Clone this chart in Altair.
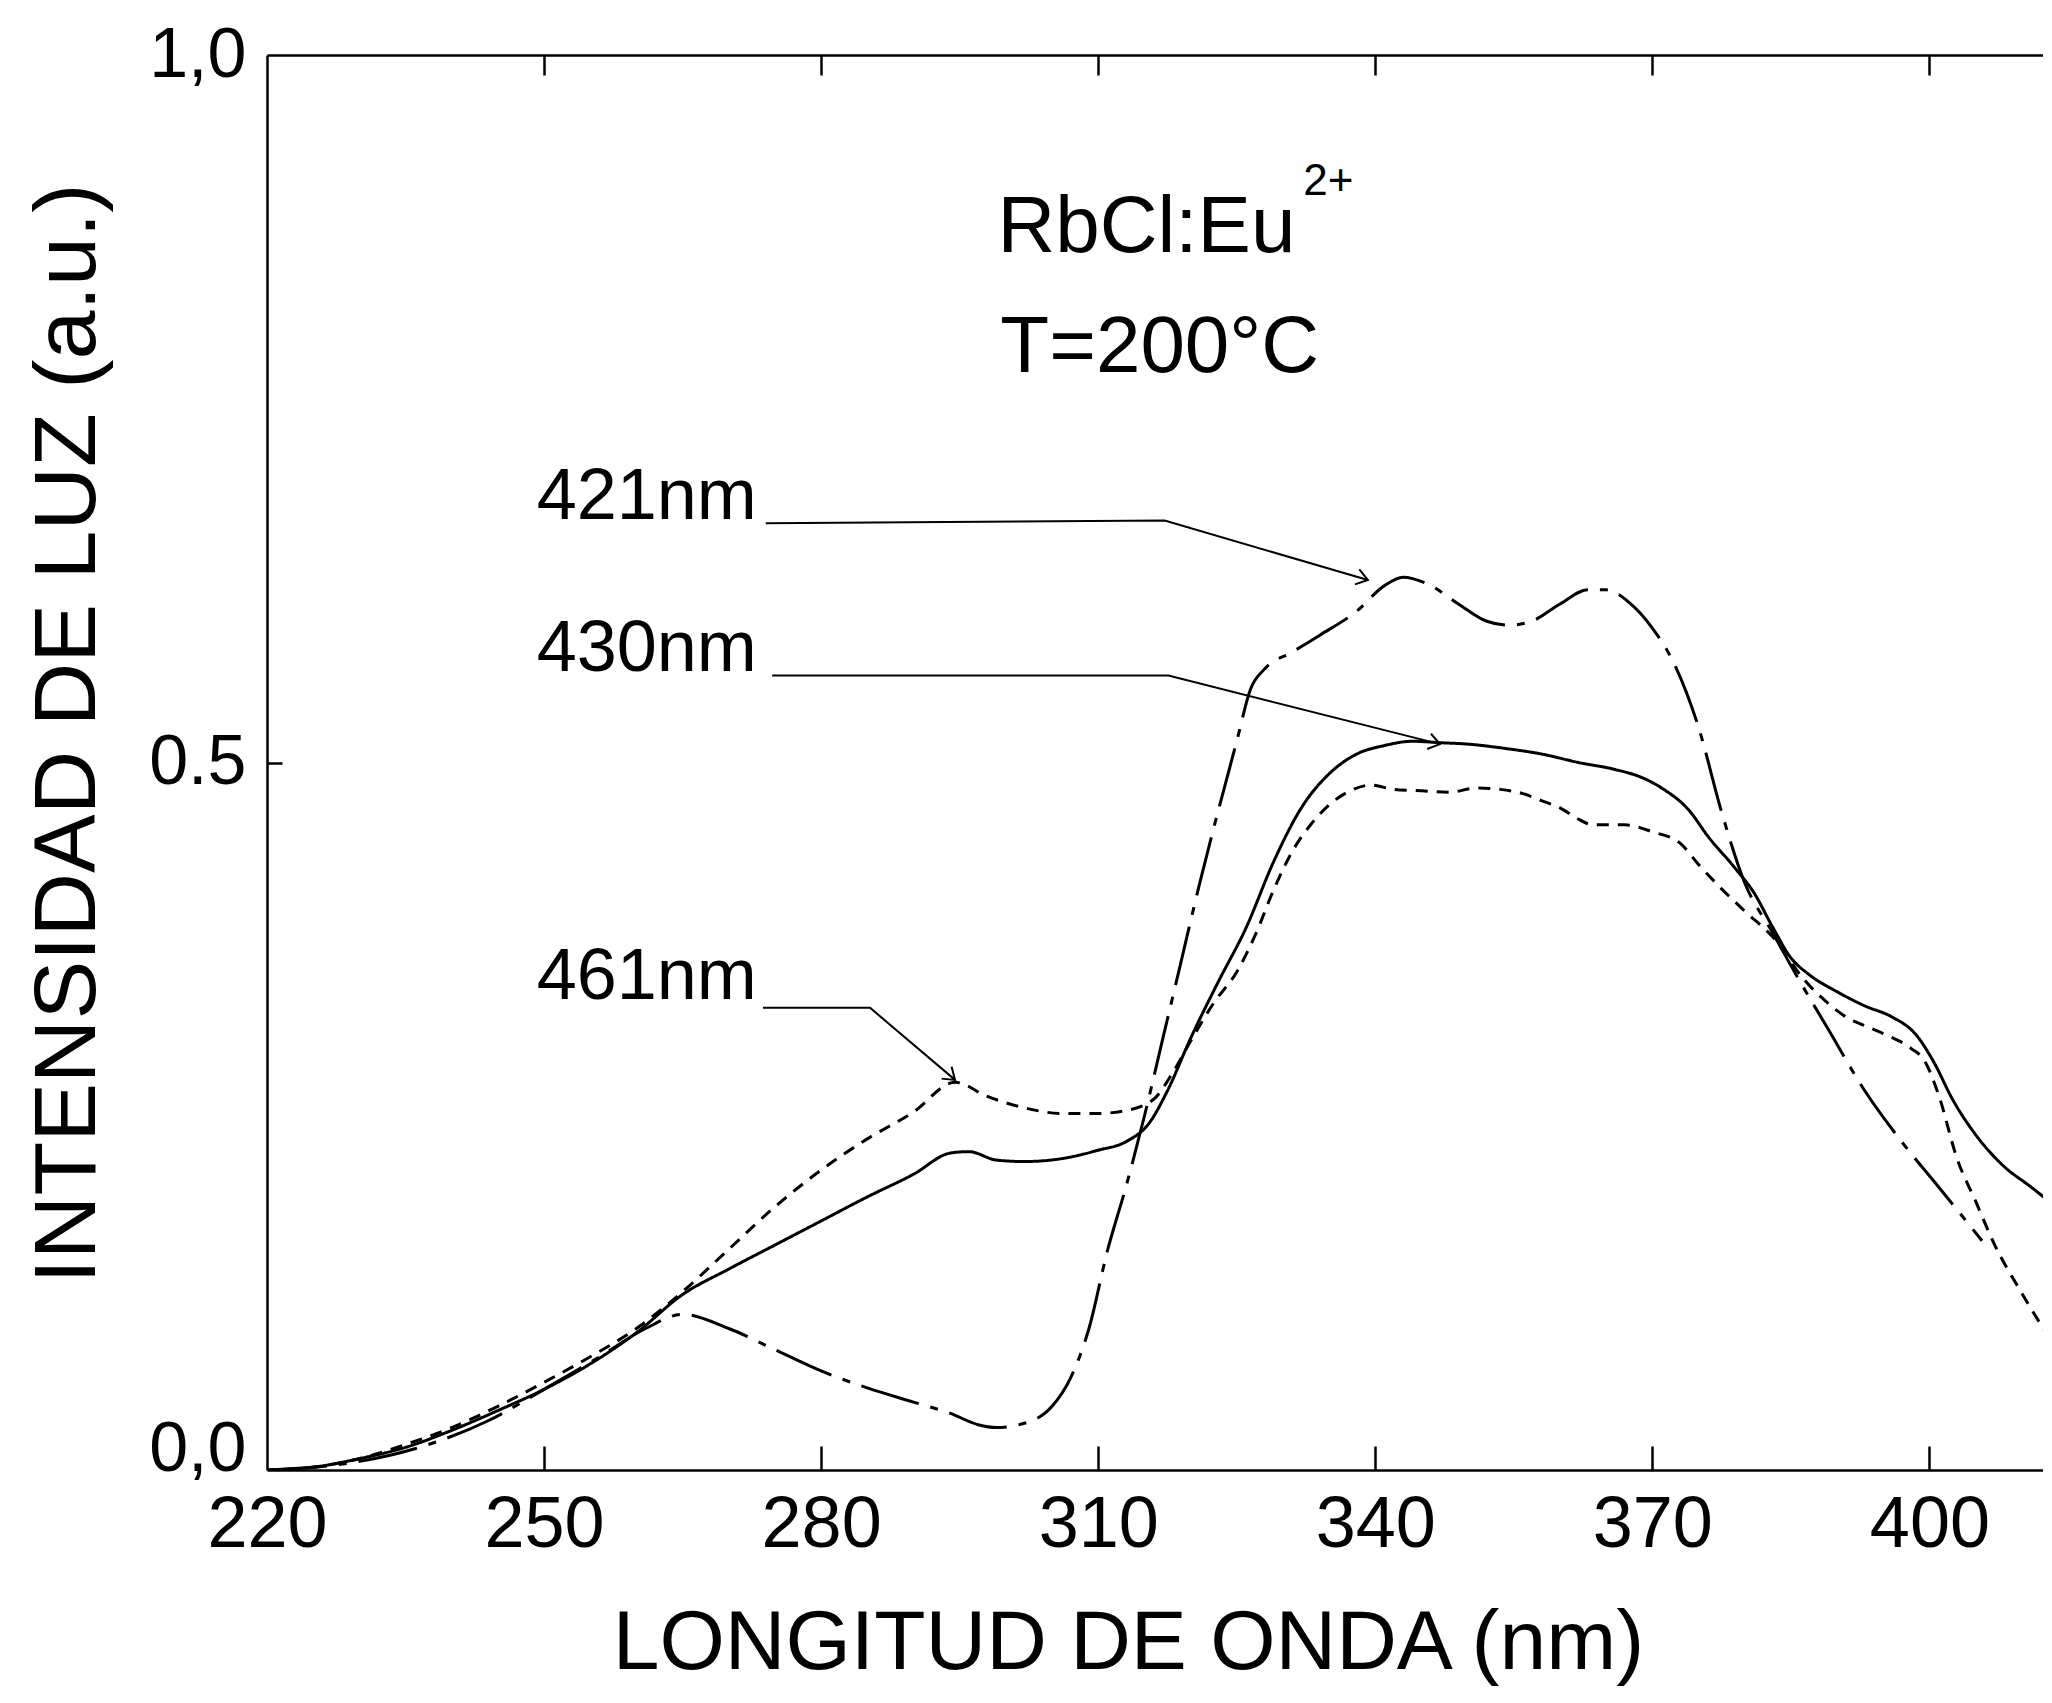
import math
import altair as alt
import pandas as pd

# ---------------- data ----------------
wl_430 = [220, 225, 230, 235, 240, 245, 250, 255, 260, 265, 270, 275, 280, 285, 290, 294, 296, 299, 302, 306,
          310, 313, 315.5, 317.5, 320, 323, 326, 329, 332, 335, 338, 341, 344, 347, 350, 354, 358, 362, 366,
          369, 371, 374, 376, 379, 381, 383, 385, 387, 390, 393, 396, 398.5, 400.5, 402.5, 405, 408, 411, 413.3]
int_430 = [0, 0.002, 0.008, 0.016, 0.028, 0.042, 0.057, 0.075, 0.097, 0.124, 0.142, 0.159, 0.176, 0.193, 0.209,
           0.224, 0.225, 0.219, 0.218, 0.22, 0.226, 0.232, 0.245, 0.268, 0.305, 0.345, 0.383, 0.43, 0.468, 0.492,
           0.506, 0.512, 0.515, 0.514, 0.513, 0.51, 0.506, 0.5, 0.495, 0.489, 0.482, 0.466, 0.448, 0.425, 0.408,
           0.384, 0.362, 0.35, 0.338, 0.328, 0.32, 0.308, 0.288, 0.262, 0.237, 0.215, 0.2, 0.188]

wl_461 = [220, 225, 230, 235, 240, 245, 250, 255, 260, 265, 270, 275, 280, 285, 290, 294.5, 298, 302, 306, 310,
          313, 316, 318, 320, 322.5, 325, 327, 329, 331, 333, 335, 337, 339.5, 342, 345, 348, 351, 353.5, 356,
          358, 360, 362, 363.5, 367, 370, 373, 375, 377, 380, 383, 386.5, 389, 391, 393, 395.5, 398, 399.5, 401,
          403, 405, 407, 410, 413.3]
int_461 = [0, 0.002, 0.008, 0.018, 0.03, 0.045, 0.062, 0.08, 0.1, 0.126, 0.156, 0.186, 0.212, 0.234, 0.253,
           0.274, 0.264, 0.256, 0.252, 0.252, 0.254, 0.262, 0.28, 0.303, 0.33, 0.352, 0.378, 0.41, 0.437, 0.456,
           0.47, 0.479, 0.484, 0.481, 0.48, 0.479, 0.482, 0.481, 0.478, 0.473, 0.468, 0.46, 0.456, 0.456, 0.451,
           0.443, 0.428, 0.414, 0.395, 0.377, 0.346, 0.33, 0.32, 0.314, 0.307, 0.298, 0.289, 0.265, 0.22, 0.19,
           0.16, 0.125, 0.09]

wl_421 = [220, 228, 236, 244, 250, 256, 261, 265, 270, 275, 280, 285, 290, 294, 297, 299, 302, 305, 307, 309,
          311, 313, 315, 317, 319, 321, 323, 325, 326.5, 328, 331, 334, 338, 341, 343, 346, 349, 352, 354.5, 357,
          360, 363, 365, 367.5, 370, 372.5, 375, 377.5, 380, 383, 386, 389, 393, 397, 401, 405.7]
int_421 = [0, 0.004, 0.015, 0.035, 0.057, 0.08, 0.1, 0.11, 0.1, 0.085, 0.07, 0.058, 0.048, 0.04, 0.032, 0.03,
           0.033, 0.045, 0.065, 0.1, 0.155, 0.2, 0.25, 0.305, 0.36, 0.415, 0.466, 0.515, 0.552, 0.566, 0.578,
           0.59, 0.607, 0.625, 0.631, 0.625, 0.612, 0.6, 0.597, 0.6, 0.612, 0.622, 0.622, 0.613, 0.595, 0.568,
           0.525, 0.465, 0.415, 0.38, 0.345, 0.312, 0.268, 0.232, 0.2, 0.162]

series_names = ["430nm", "461nm", "421nm"]

x_tick_values = [220, 250, 280, 310, 340, 370, 400]
x_inner_ticks = [250, 280, 310, 340, 370, 400]
y_tick_values = [0.0, 0.5, 1.0]
y_tick_labels = ["0,0", "0.5", "1,0"]
y_inner_ticks = [0.5]

x_title = "LONGITUD DE ONDA (nm)"
y_title = "INTENSIDAD DE LUZ (a.u.)"

# curve labels and leader lines (label anchor, elbow, end on curve)
label_texts = ["421nm", "430nm", "461nm"]
label_x = [249.2, 249.2, 249.2]
label_y = [0.6724, 0.5644, 0.333]
leader_x = [[274.0, 317.2, 339.2], [274.7, 317.6, 347.0], [273.7, 285.3, 294.5]]
leader_y = [[0.669, 0.671, 0.629], [0.5615, 0.5615, 0.513], [0.3266, 0.3266, 0.2757]]

sample_texts = ["RbCl:Eu", "T=200°C"]
sample_x = [299.1, 299.4]
sample_y = [0.8607, 0.776]
sup_text = ["2+"]
sup_x = [332.2]
sup_y = [0.901]

# ---------------- layout ----------------
X_MIN, X_MAX = 220, 412.3
W, H = 1776, 1415
FONT = "'Liberation Sans', Arial, sans-serif"

xscale = alt.Scale(domain=[X_MIN, X_MAX], nice=False, zero=False)
yscale = alt.Scale(domain=[0, 1], nice=False, zero=False)

rows = []
for name, xs, ys in zip(series_names, [wl_430, wl_461, wl_421], [int_430, int_461, int_421]):
    for a, b in zip(xs, ys):
        rows.append({"series": name, "wl": a, "val": b})
df_c = pd.DataFrame(rows)

lead_rows = []
arrow_rows = []
px_x = W / (X_MAX - X_MIN)
px_y = H / 1.0
for name, lx, ly in zip(label_texts, leader_x, leader_y):
    for k, (a, b) in enumerate(zip(lx, ly)):
        lead_rows.append({"name": name, "k": k, "lx": a, "ly": b})
    ang = math.degrees(math.atan2((ly[-2] - ly[-1]) * px_y, (lx[-1] - lx[-2]) * px_x))
    arrow_rows.append({"ax": lx[-1], "ay": ly[-1], "ang": ang})
df_l = pd.DataFrame(lead_rows)
df_a = pd.DataFrame(arrow_rows)

df_lab = pd.DataFrame({"t": label_texts, "tx": label_x, "ty": label_y})
df_s = pd.DataFrame({"t": sample_texts, "tx": sample_x, "ty": sample_y})
df_sup = pd.DataFrame({"t": sup_text, "tx": sup_x, "ty": sup_y})

label_expr = " : ".join(
    [f"datum.value == {v} ? '{l}'" for v, l in zip(y_tick_values[:-1], y_tick_labels[:-1])]
) + f" : '{y_tick_labels[-1]}'"

curves = alt.Chart(df_c).mark_line(color="black", strokeWidth=3, interpolate="monotone", clip=True).encode(
    x=alt.X("wl:Q", scale=xscale, axis=alt.Axis(
        orient="bottom", values=x_tick_values, ticks=False, grid=False,
        domain=True, domainColor="black", domainWidth=2.5,
        labelFont=FONT, labelFontSize=72, labelColor="black", labelPadding=19,
        labelFlush=False, labelOverlap=False,
        title=x_title, titleFont=FONT, titleFontSize=84, titleFontWeight="normal",
        titleColor="black", titleX=861, titleY=198, titleBaseline="alphabetic", titleAlign="center")),
    y=alt.Y("val:Q", scale=yscale, axis=alt.Axis(
        orient="left", values=y_tick_values, ticks=False, grid=False,
        domain=True, domainColor="black", domainWidth=2.5,
        labelExpr=label_expr, labelFont=FONT, labelFontSize=70, labelColor="black", labelPadding=21,
        labelFlush=False, labelOverlap=False,
        labelBaseline={"condition": {"test": "datum.value == 0", "value": "alphabetic"}, "value": "middle"},
        title=y_title, titleFont=FONT, titleFontSize=88, titleFontWeight="normal", titleColor="black",
        titleAngle=270, titleX=-199, titleY=678, titleBaseline="middle", titleAlign="center")),
    strokeDash=alt.StrokeDash("series:N", scale=alt.Scale(
        domain=series_names, range=[[1, 0], [12, 9], [60, 12, 8, 12]]), legend=None),
    detail="series:N",
)

# leader lines; their axes draw the inward ticks on the bottom and left edges
leaders = alt.Chart(df_l).mark_line(color="black", strokeWidth=2).encode(
    x=alt.X("lx:Q", scale=xscale, axis=alt.Axis(
        orient="top", offset=-H, values=x_inner_ticks, labels=False, domain=False, grid=False,
        ticks=True, tickSize=24, tickWidth=2.5, tickColor="black", title="")),
    y=alt.Y("ly:Q", scale=yscale, axis=alt.Axis(
        orient="right", offset=-W, values=y_inner_ticks, labels=False, domain=False, grid=False,
        ticks=True, tickSize=15, tickWidth=2.5, tickColor="black", title="")),
    detail="name:N",
    order="k:Q",
)

arrows = alt.Chart(df_a).mark_point(
    shape="M -1 -0.7 L 0 0 L -1 0.7", filled=False, color="black", strokeWidth=2, size=500, opacity=1
).encode(
    x=alt.X("ax:Q", scale=xscale, axis=None),
    y=alt.Y("ay:Q", scale=yscale, axis=None),
    angle=alt.Angle("ang:Q", scale=None),
)

# curve labels; their x axis draws the top frame line with downward ticks
lab_text = alt.Chart(df_lab).mark_text(
    align="left", baseline="alphabetic", font=FONT, fontSize=72, color="black"
).encode(
    x=alt.X("tx:Q", scale=xscale, axis=alt.Axis(
        orient="bottom", offset=-H, values=x_inner_ticks, labels=False, grid=False,
        domain=True, domainColor="black", domainWidth=2.5,
        ticks=True, tickSize=20, tickWidth=2.5, tickColor="black", title="")),
    y=alt.Y("ty:Q", scale=yscale, axis=None),
    text="t:N",
)

samp_text = alt.Chart(df_s).mark_text(
    align="left", baseline="alphabetic", font=FONT, fontSize=80, color="black"
).encode(
    x=alt.X("tx:Q", scale=xscale, axis=None),
    y=alt.Y("ty:Q", scale=yscale, axis=None),
    text="t:N",
)

sup = alt.Chart(df_sup).mark_text(
    align="left", baseline="alphabetic", font=FONT, fontSize=44, color="black"
).encode(
    x=alt.X("tx:Q", scale=xscale, axis=None),
    y=alt.Y("ty:Q", scale=yscale, axis=None),
    text="t:N",
)

chart = alt.layer(curves, leaders, arrows, lab_text, samp_text, sup).resolve_axis(
    x="independent", y="independent"
).properties(
    width=W, height=H,
    autosize=alt.AutoSizeParams(type="none"),
    padding={"left": 259, "top": 47, "right": 0, "bottom": 222},
    background="white",
).configure_view(strokeWidth=0)

chart.save("out.html", embed_options={"renderer": "svg", "actions": False})
